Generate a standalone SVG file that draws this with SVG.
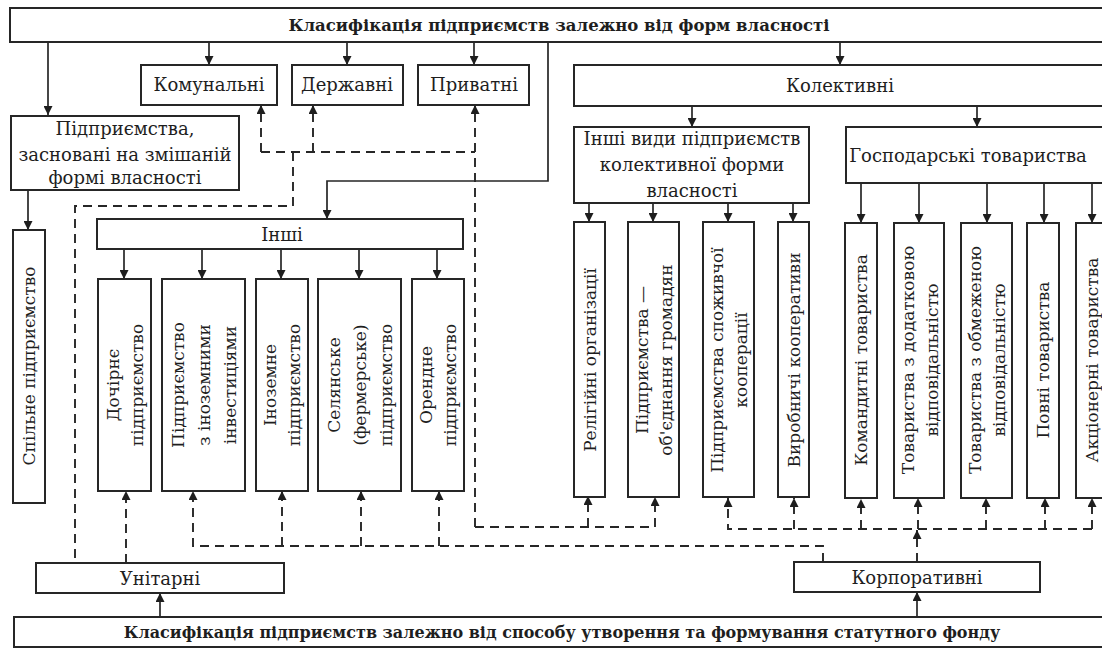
<svg xmlns="http://www.w3.org/2000/svg" width="1102" height="649" viewBox="0 0 1102 649">
<defs>
<marker id="ah" viewBox="0 0 10 10" refX="10" refY="5" markerUnits="userSpaceOnUse" markerWidth="11" markerHeight="9" orient="auto">
<path d="M0,0 L10,5 L0,10 z" fill="#1e1e1e"/>
</marker>
<style>
.box{fill:#fff;stroke:#262626;stroke-width:2}
.t{font-family:"DejaVu Serif","Liberation Serif",serif;font-size:18px;fill:#1e1e1e;text-anchor:middle}
.tb{font-family:"DejaVu Serif","Liberation Serif",serif;font-size:16.5px;font-weight:bold;fill:#1e1e1e;text-anchor:middle}
.tb2{font-family:"DejaVu Serif","Liberation Serif",serif;font-size:16px;font-weight:bold;fill:#1e1e1e;text-anchor:middle}
.v{font-family:"DejaVu Serif","Liberation Serif",serif;font-size:17px;fill:#1e1e1e;text-anchor:middle}
.s{fill:none;stroke:#262626;stroke-width:1.7}
.d{fill:none;stroke:#262626;stroke-width:1.9;stroke-dasharray:9 6}
.a{marker-end:url(#ah)}
</style>
</defs>
<rect width="1102" height="649" fill="#fff"/>

<g id="connectors">
<path class="s a" d="M48,42 V115"/>
<path class="s a" d="M209,42 V65"/>
<path class="s a" d="M347,42 V65"/>
<path class="s a" d="M474,42 V65"/>
<path class="s a" d="M548,42 V181 H327 V219"/>
<path class="s a" d="M840,42 V65"/>
<path class="s a" d="M28,190 V230"/>
<path class="s a" d="M124,249 V279"/>
<path class="s a" d="M202,249 V279"/>
<path class="s a" d="M281,249 V279"/>
<path class="s a" d="M359,249 V279"/>
<path class="s a" d="M437,249 V279"/>
<path class="s a" d="M692,106 V127"/>
<path class="s a" d="M977,106 V127"/>
<path class="s a" d="M589,203 V222"/>
<path class="s a" d="M653,203 V222"/>
<path class="s a" d="M728,203 V222"/>
<path class="s a" d="M793,203 V222"/>
<path class="s a" d="M861,183 V223"/>
<path class="s a" d="M919,183 V223"/>
<path class="s a" d="M987,183 V223"/>
<path class="s a" d="M1044,183 V223"/>
<path class="s a" d="M1092,183 V223"/>
<path class="s a" d="M160,617 V593"/>
<path class="s a" d="M917,617 V592"/>

<path class="d a" d="M261,152 V105"/>
<path class="d a" d="M313,152 V105"/>
<path class="d" d="M261,152 H475"/>
<path class="d a" d="M475,527 V105"/>
<path class="d" d="M293,152 V206 H75 V563"/>
<path class="d a" d="M126,563 V491"/>
<path class="d a" d="M823,562 V546 H193 V491"/>
<path class="d a" d="M282,546 V491"/>
<path class="d a" d="M361,546 V491"/>
<path class="d a" d="M439,546 V491"/>
<path class="d a" d="M475,527 H655 V497"/>
<path class="d a" d="M588,527 V496"/>
<path class="d a" d="M1092,529 H728 V498"/>
<path class="d a" d="M794,529 V498"/>
<path class="d a" d="M861,529 V499"/>
<path class="d a" d="M918,529 V498"/>
<path class="d a" d="M986,529 V498"/>
<path class="d a" d="M1045,529 V498"/>
<path class="d a" d="M1092,529 V498"/>
<path class="d a" d="M917,562 V530"/>
</g>

<g id="title-top">
<rect class="box" x="10" y="8" width="1100" height="34"/>
<text class="tb" x="559" y="31">Класифікація підприємств залежно від форм власності</text>
</g>
<g id="komunalni">
<rect class="box" x="141" y="65" width="136" height="40"/>
<text class="t" x="209" y="91">Комунальні</text>
</g>
<g id="derzhavni">
<rect class="box" x="292" y="65" width="111" height="40"/>
<text class="t" x="347" y="91">Державні</text>
</g>
<g id="pryvatni">
<rect class="box" x="418" y="65" width="111" height="40"/>
<text class="t" x="474" y="91">Приватні</text>
</g>
<g id="zmishani">
<rect class="box" x="11" y="116" width="228" height="74"/>
<text class="t" x="125" y="135">Підприємства,</text>
<text class="t" x="125" y="161">засновані на змішаній</text>
<text class="t" x="125" y="184">формі власності</text>
</g>
<g id="spilne">
<rect class="box" x="13" y="230" width="32" height="273"/>
<text class="v" transform="translate(29,366) rotate(-90)" y="6">Спільне підприємство</text>
</g>
<g id="inshi">
<rect class="box" x="97" y="219" width="366" height="30"/>
<text class="t" x="282" y="241">Інші</text>
</g>
<g id="dochirne">
<rect class="box" x="98" y="279" width="53" height="212"/>
<text class="v" transform="translate(125,385) rotate(-90)"><tspan x="0" y="-6">Дочірнє</tspan><tspan x="0" y="18">підприємство</tspan></text>
</g>
<g id="inozem-invest">
<rect class="box" x="162" y="279" width="83" height="212"/>
<text class="v" transform="translate(204,385) rotate(-90)"><tspan x="0" y="-20">Підприємство</tspan><tspan x="0" y="6">з іноземними</tspan><tspan x="0" y="32">інвестиціями</tspan></text>
</g>
<g id="inozemne">
<rect class="box" x="256" y="279" width="52" height="212"/>
<text class="v" transform="translate(282,385) rotate(-90)"><tspan x="0" y="-6">Іноземне</tspan><tspan x="0" y="18">підприємство</tspan></text>
</g>
<g id="selianske">
<rect class="box" x="318" y="279" width="83" height="212"/>
<text class="v" transform="translate(360,385) rotate(-90)"><tspan x="0" y="-20">Селянське</tspan><tspan x="0" y="6">(фермерське)</tspan><tspan x="0" y="32">підприємство</tspan></text>
</g>
<g id="orendne">
<rect class="box" x="412" y="279" width="52" height="212"/>
<text class="v" transform="translate(438,385) rotate(-90)"><tspan x="0" y="-6">Орендне</tspan><tspan x="0" y="18">підприємство</tspan></text>
</g>
<g id="kolektyvni">
<rect class="box" x="574" y="65" width="536" height="41"/>
<text class="t" x="840" y="92">Колективні</text>
</g>
<g id="inshi-vydy">
<rect class="box" x="574" y="127" width="235" height="76"/>
<text class="t" x="692" y="145">Інші види підприємств</text>
<text class="t" x="692" y="171">колективної форми</text>
<text class="t" x="692" y="197">власності</text>
</g>
<g id="hospodarski">
<rect class="box" x="846" y="127" width="264" height="56"/>
<text class="t" x="968" y="162">Господарські товариства</text>
</g>
<g id="relihiini">
<rect class="box" x="574" y="222" width="31" height="275"/>
<text class="v" transform="translate(590,360) rotate(-90)" y="6">Релігійні організації</text>
</g>
<g id="obiednannia">
<rect class="box" x="628" y="222" width="51" height="275"/>
<text class="v" transform="translate(654,360) rotate(-90)"><tspan x="0" y="-6">Підприємства —</tspan><tspan x="0" y="18">об'єднання громадян</tspan></text>
</g>
<g id="spozhyvcha">
<rect class="box" x="703" y="222" width="51" height="275"/>
<text class="v" transform="translate(729,360) rotate(-90)"><tspan x="0" y="-6">Підприємства споживчої</tspan><tspan x="0" y="18">кооперації</tspan></text>
</g>
<g id="vyrobnychi">
<rect class="box" x="778" y="222" width="31" height="275"/>
<text class="v" transform="translate(794,360) rotate(-90)" y="6">Виробничі кооперативи</text>
</g>
<g id="komandytni">
<rect class="box" x="845" y="223" width="32" height="275"/>
<text class="v" transform="translate(861,360) rotate(-90)" y="6">Командитні товариства</text>
</g>
<g id="dodatkova">
<rect class="box" x="894" y="223" width="50" height="275"/>
<text class="v" transform="translate(920,360) rotate(-90)"><tspan x="0" y="-6">Товариства з додатковою</tspan><tspan x="0" y="18">відповідальністю</tspan></text>
</g>
<g id="obmezhena">
<rect class="box" x="961" y="223" width="51" height="275"/>
<text class="v" transform="translate(987,360) rotate(-90)"><tspan x="0" y="-6">Товариства з обмеженою</tspan><tspan x="0" y="18">відповідальністю</tspan></text>
</g>
<g id="povni">
<rect class="box" x="1027" y="223" width="32" height="275"/>
<text class="v" transform="translate(1043,360) rotate(-90)" y="6">Повні товариства</text>
</g>
<g id="aktsionerni">
<rect class="box" x="1076" y="223" width="32" height="275"/>
<text class="v" transform="translate(1092,360) rotate(-90)" y="6">Акціонерні товариства</text>
</g>
<g id="unitarni">
<rect class="box" x="36" y="563" width="248" height="30"/>
<text class="t" x="160" y="585">Унітарні</text>
</g>
<g id="korporatyvni">
<rect class="box" x="794" y="562" width="246" height="30"/>
<text class="t" x="917" y="584">Корпоративні</text>
</g>
<g id="title-bottom">
<rect class="box" x="14" y="617" width="1096" height="30"/>
<text class="tb2" x="562" y="638">Класифікація підприємств залежно від способу утворення та формування статутного фонду</text>
</g>
</svg>
